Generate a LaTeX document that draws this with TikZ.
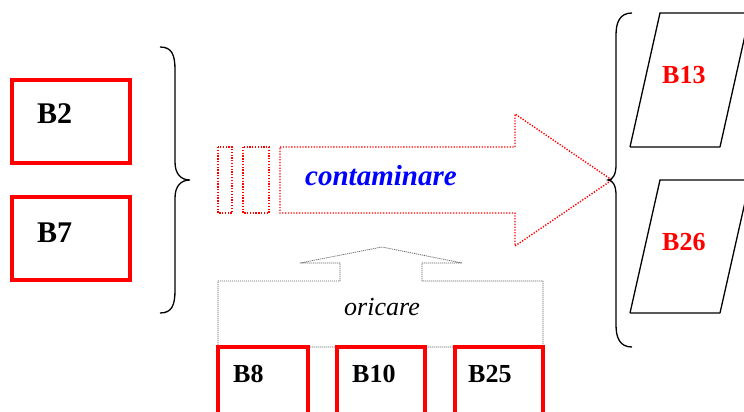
\documentclass[tikz,border=0pt]{standalone}
\usepackage{fontspec}
\setmainfont{Liberation Serif}
\begin{document}
\begin{tikzpicture}[x=1pt,y=-1pt,
  redbox/.style={draw=red,line width=3.4pt,inner sep=0pt},
  btext/.style={font=\fontsize{30}{32}\selectfont\bfseries,anchor=base west,inner sep=0pt},
  bsmall/.style={font=\fontsize{26}{28}\selectfont\bfseries,anchor=base west,inner sep=0pt},
  rtext/.style={font=\fontsize{26}{28}\selectfont\bfseries,text=red,anchor=base west,inner sep=0pt},
  reddot/.style={draw=red,line width=1.4pt,dash pattern=on 1.3pt off 1.5pt},
  graydash/.style={draw=black!60,line width=0.7pt,dash pattern=on 1.2pt off 0.8pt},
  brace/.style={draw=black,line width=1.3pt},
  para/.style={draw=black,line width=1.3pt}]
\useasboundingbox (0,0) rectangle (744,412);
\clip (0,0) rectangle (744,412);
% left boxes
\draw[redbox] (12,80) rectangle (130,163);
\node[btext] (t2) at (37,123) {B2};
\draw[redbox] (12,197) rectangle (130,280);
\node[btext] (t7) at (37,242) {B7};
% left brace
\draw[brace] (160,47) .. controls (172,47) and (175,55) .. (175,70) -- (175,162)
  .. controls (175,174) and (181,180) .. (190,180)
  .. controls (181,180) and (175,186) .. (175,198) -- (175,290)
  .. controls (175,305) and (172,313) .. (160,313);
% dotted arrow
\draw[reddot] (218,147) rectangle (232,213);
\draw[reddot] (243,147) rectangle (269,213);
\draw[reddot] (280,147) -- (515,147) -- (515,114) -- (612,180) -- (515,246) -- (515,213) -- (280,213) -- cycle;
\node[font=\fontsize{29}{31}\selectfont\bfseries\itshape,text=blue,anchor=base west,inner sep=0pt] (cont) at (305,185) {contaminare};
% gray up arrow
\draw[graydash] (218,347) -- (218,281) -- (340,281) -- (340,263) -- (300,263) -- (382,247)
  -- (462,263) -- (422,263) -- (422,281) -- (543,281) -- (543,347) -- cycle;
\node[font=\fontsize{26}{28}\selectfont\itshape,anchor=base,inner sep=0pt] (ori) at (382,315) {oricare};
% bottom boxes
\draw[redbox] (218,347) rectangle (308,430);
\node[bsmall] (t8) at (233,382) {B8};
\draw[redbox] (337,347) rectangle (425,430);
\node[bsmall] (t10) at (352,382) {B10};
\draw[redbox] (455,347) rectangle (543,430);
\node[bsmall] (t25) at (468,382) {B25};
% right brace
\draw[brace] (632,13) .. controls (620,13) and (616,22) .. (616,35) -- (616,165)
  .. controls (616,174) and (613,180) .. (608,180)
  .. controls (613,180) and (616,186) .. (616,195) -- (616,325)
  .. controls (616,338) and (620,347) .. (632,347);
% parallelograms
\draw[para] (630,147) -- (660,13) -- (760,13) (720,147) -- (750,13) (630,147) -- (720,147);
\node[rtext] (t13) at (662,83) {B13};
\draw[para] (630,313) -- (660,180) -- (760,180) (720,313) -- (750,180) (630,313) -- (720,313);
\node[rtext] (t26) at (662,250) {B26};
\end{tikzpicture}
\end{document}
